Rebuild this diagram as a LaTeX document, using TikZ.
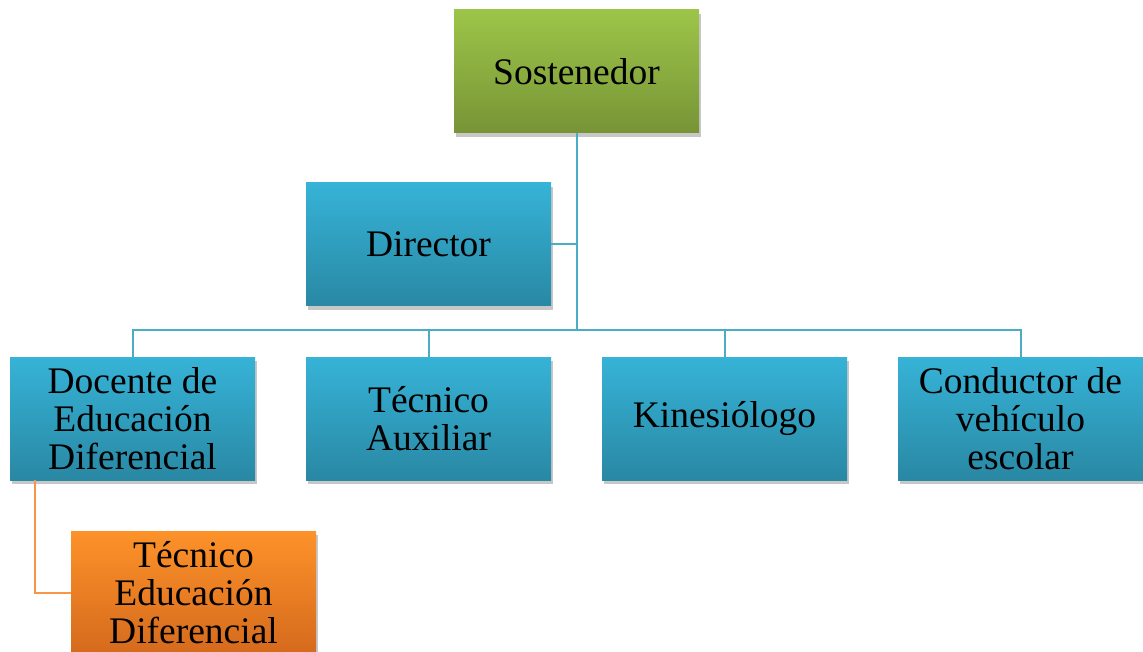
\documentclass[tikz,border=0pt]{standalone}
\usepackage{fontspec}
\setmainfont{Liberation Serif}
\usetikzlibrary{shadows}
\definecolor{bluetop}{RGB}{54,179,215}
\definecolor{bluebot}{RGB}{41,136,164}
\definecolor{greentop}{RGB}{157,197,73}
\definecolor{greenbot}{RGB}{119,148,54}
\definecolor{orangetop}{RGB}{253,146,42}
\definecolor{orangebot}{RGB}{213,106,29}
\definecolor{blueline}{RGB}{75,172,198}
\definecolor{orangeline}{RGB}{247,150,70}
\begin{document}
\begin{tikzpicture}[x=1pt,y=-1pt,
  box/.style={minimum width=245pt,minimum height=123pt,inner sep=0pt,
    text width=235pt,align=flush center,font=\fontsize{37.5}{38}\selectfont,
    drop shadow={shadow xshift=2pt,shadow yshift=-4pt,opacity=0.22,fill=black}},
  bluebox/.style={box,top color=bluetop,bottom color=bluebot},
  greenbox/.style={box,top color=greentop,bottom color=greenbot},
  orangebox/.style={box,top color=orangetop,bottom color=orangebot},
  link/.style={draw=blueline,line width=2pt},
  sublink/.style={draw=orangeline,line width=2pt}]
  \useasboundingbox (0,0) rectangle (1143,652);
  \clip (0,0) rectangle (1143,652);

  \node[greenbox] (sost) at (576.5,71.5) {Sostenedor};
  \node[bluebox] (dir) at (428.5,244.5) {Director};

  \node[bluebox] (doc) at (132.5,418.5) {Docente de\\Educación\\Diferencial};
  \node[bluebox] (tec) at (428.5,418.5) {Técnico\\Auxiliar};
  \node[bluebox] (kin) at (724.5,418.5) {Kinesiólogo};
  \node[bluebox] (cond) at (1020.5,418.5) {Conductor de\\vehículo\\escolar};

  \node[orangebox] (teced) at (193.5,592.5) {Técnico\\Educación\\Diferencial};

  \coordinate (bar) at (576.5,330);
  \draw[link] (sost.south) -- (bar);
  \draw[link] (dir.east) -- (dir.east -| bar);
  \draw[link] (doc.north) |- (cond.north |- bar) -- (cond.north);
  \draw[link] (tec.north) -- (tec.north |- bar);
  \draw[link] (kin.north) -- (kin.north |- bar);
  \draw[sublink] ([xshift=25pt]doc.south west) |- (teced.west);
\end{tikzpicture}
\end{document}
